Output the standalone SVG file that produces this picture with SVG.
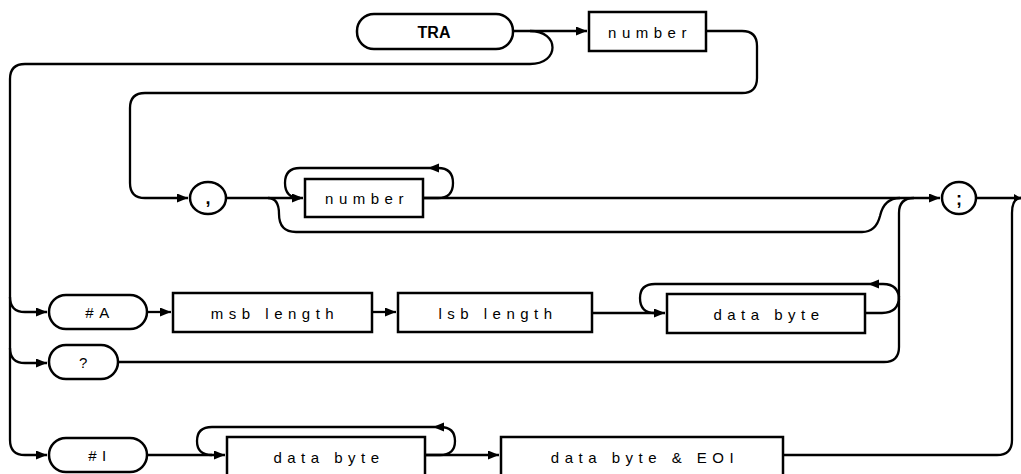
<svg xmlns="http://www.w3.org/2000/svg" width="1021" height="474" viewBox="0 0 1021 474">
<defs>
<marker id="ah" markerWidth="11" markerHeight="9" refX="11" refY="4.5" orient="auto" markerUnits="userSpaceOnUse">
<path d="M0,0 L11,4.5 L0,9 z" fill="#000"/>
</marker>
<style>
.n{fill:#fff;stroke:#000;stroke-width:2.5}
.c{fill:none;stroke:#000;stroke-width:2.3}
.t{font-family:"Liberation Sans",Arial,sans-serif;font-size:15px;letter-spacing:5.5px;text-anchor:middle;dominant-baseline:central;fill:#000}
.b{font-family:"Liberation Sans",Arial,sans-serif;font-size:16px;font-weight:bold;text-anchor:middle;dominant-baseline:central;fill:#000}
.p{font-family:"Liberation Sans",Arial,sans-serif;font-size:18px;font-weight:bold;text-anchor:middle;dominant-baseline:central;fill:#000}
</style>
</defs>
<rect width="1021" height="474" fill="#fff"/>
<g id="connectors">
<path class="c" d="M513,31 H587" marker-end="url(#ah)"/>
<path class="c" d="M530,31 C560,31 560,64 530,64 H25 Q10,64 10,79 V440 Q10,455 25,455 H47" marker-end="url(#ah)"/>
<path class="c" d="M10,297 Q10,312 25,312 H47" marker-end="url(#ah)"/>
<path class="c" d="M10,348 Q10,363 25,363 H47" marker-end="url(#ah)"/>
<path class="c" d="M706,31 H742 Q757,31 757,46 V78 Q757,93 742,93 H145 Q130,93 130,108 V183 Q130,198 145,198 H188" marker-end="url(#ah)"/>
<path class="c" d="M226,198 H303" marker-end="url(#ah)"/>
<path class="c" d="M423,198 H438 Q453,198 453,183 Q453,168 438,168 H300 Q285,168 285,183 Q285,198 300,198"/>
<path d="M428,168 L439,163.5 L439,172.5 z" fill="#000"/>
<path class="c" d="M268,198 Q279,198 279,214 Q279,232 296,232 H862 Q876,232 880,216 Q884,198 900,198"/>
<path class="c" d="M423,198 H940" marker-end="url(#ah)"/>
<path class="c" d="M976,198 H1021"/>
<path d="M1021,198 L1014,194 L1014,202 z" fill="#000"/>
<path class="c" d="M1021,198 Q1012,198 1012,213 V440 Q1012,455 997,455 H783"/>
<path class="c" d="M147,312 H171" marker-end="url(#ah)"/>
<path class="c" d="M372,312 H396" marker-end="url(#ah)"/>
<path class="c" d="M592,313 H665" marker-end="url(#ah)"/>
<path class="c" d="M899,300 Q899,284 883,284 H655 Q640,284 640,298 Q640,313 655,313"/>
<path d="M868,284 L879,279.5 L879,288.5 z" fill="#000"/>
<path class="c" d="M865,313 H882 Q899,313 899,296 V213 Q899,198 914,198"/>
<path class="c" d="M899,296 V347 Q899,362 884,362 H118"/>
<path class="c" d="M147,455 H225" marker-end="url(#ah)"/>
<path class="c" d="M425,455 H440 Q455,455 455,441 Q455,427 440,427 H212 Q197,427 197,441 Q197,455 212,455"/>
<path d="M433,427 L444,422.5 L444,431.5 z" fill="#000"/>
<path class="c" d="M425,455 H499" marker-end="url(#ah)"/>
</g>
<g id="node-tra"><rect class="n" x="357" y="14" width="156" height="35" rx="17"/><text class="b" x="434" y="32">TRA</text></g>
<g id="node-number1"><rect class="n" x="589" y="12" width="117" height="39"/><text class="t" x="650" y="32">number</text></g>
<g id="node-comma"><ellipse class="n" cx="208" cy="198" rx="18" ry="16"/><text class="p" x="208" y="198">,</text></g>
<g id="node-number2"><rect class="n" x="305" y="179" width="118" height="38"/><text class="t" x="367" y="198">number</text></g>
<g id="node-semicolon"><ellipse class="n" cx="959" cy="198" rx="17" ry="16"/><text class="p" x="959" y="199">;</text></g>
<g id="node-hashA"><rect class="n" x="49" y="295" width="98" height="34" rx="17"/><text class="t" x="100" y="312">#A</text></g>
<g id="node-msb"><rect class="n" x="173" y="293" width="199" height="39"/><text class="t" x="275" y="313">msb length</text></g>
<g id="node-lsb"><rect class="n" x="398" y="293" width="194" height="39"/><text class="t" x="498" y="313">lsb length</text></g>
<g id="node-databyte1"><rect class="n" x="667" y="294" width="198" height="39"/><text class="t" x="769" y="314">data byte</text></g>
<g id="node-query"><rect class="n" x="49" y="345" width="69" height="34" rx="17"/><text class="t" x="86" y="362">?</text></g>
<g id="node-hashI"><rect class="n" x="49" y="438" width="98" height="34" rx="17"/><text class="t" x="100" y="455">#I</text></g>
<g id="node-databyte2"><rect class="n" x="227" y="437" width="198" height="40"/><text class="t" x="329" y="457">data byte</text></g>
<g id="node-eoi"><rect class="n" x="501" y="437" width="282" height="40"/><text class="t" x="645" y="457">data byte &amp; EOI</text></g>
</svg>
